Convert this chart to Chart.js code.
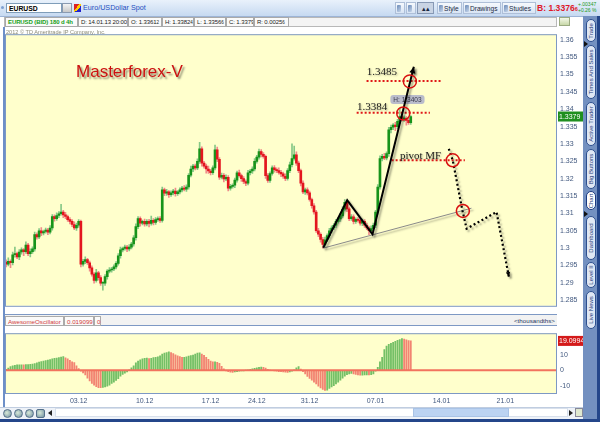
<!DOCTYPE html>
<html><head><meta charset="utf-8">
<script src="https://cdn.jsdelivr.net/npm/chart.js@4.4.1/dist/chart.umd.min.js"></script>
<style>
body{margin:0;width:600px;height:422px;overflow:hidden;background:#fff;font-family:"Liberation Sans",Arial,sans-serif;position:relative}
.abs{position:absolute}
#toolbar{left:0;top:0;width:600px;height:16px;background:linear-gradient(#e9f1fb,#c6d9f1);border-bottom:1px solid #9db4d6}
#sym{left:6px;top:3px;width:56px;height:10px;background:#fff;border:1px solid #7f9db9;font-size:6.8px;font-weight:bold;line-height:9px;padding-left:2px;box-sizing:border-box;color:#000}
#symbtn{left:62px;top:3px;width:10px;height:10px;background:linear-gradient(#f4f4f4,#c8c8c8);border:1px solid #8a9ab0;box-sizing:border-box}
#symname{left:83px;top:3px;font-size:7.2px;color:#1f4fbf;line-height:10px}
.tb{top:2px;height:12px;font-size:6.6px;line-height:11px;color:#1b2a44;box-sizing:border-box;padding:0 1px;border:1px solid #aebfd8;background:linear-gradient(#f6f9fd,#d8e4f4);white-space:nowrap;overflow:hidden}
.ic{display:inline-block;width:4px;height:7px;vertical-align:-1px;margin-right:1px;background:linear-gradient(135deg,#6a8ab8,#c7d6ea);border-radius:1px}
#bid{left:537px;top:2px;font-size:8.6px;font-weight:bold;color:#e0182a;line-height:12px;white-space:nowrap}
#bid small{font-size:5.5px}
#chg{left:578px;top:2px;font-size:5px;color:#1c9a1c;line-height:5.5px}
#info{left:4px;top:17px;width:553px;height:10px;background:#f4f4f4;border:1px solid #b8b8b8;box-sizing:border-box}
.cell{top:17px;height:10px;font-size:6px;letter-spacing:-0.1px;line-height:9px;color:#222;border:1px solid #a9a9a9;box-sizing:border-box;padding-left:2px;background:#fafafa;white-space:nowrap;overflow:hidden}
.cell small{font-size:4.5px}
#copy{left:6px;top:29px;font-size:5.6px;color:#8c8c78;z-index:2}
#c1{left:0;top:27px}
#c2{left:0;top:326px}
#oschead{left:4px;top:314px;width:553px;height:12px;background:#f2f2f2;border-top:1px solid #7d98c4;border-bottom:1px solid #7d98c4;box-sizing:border-box}
.oc{top:316px;height:10px;font-size:6.2px;line-height:9px;color:#d23a3a;border:1px solid #aaa;box-sizing:border-box;padding:0 2px;background:#fafafa;white-space:nowrap}
#thou{left:514px;top:316px;font-size:6.2px;color:#24365e;line-height:9px}
#bottom{left:0;top:407px;width:584px;height:12px;background:#eef2f8;border-top:1px solid #c0cde0}
.ico{top:409px;width:9px;height:9px;border-radius:50%;background:radial-gradient(circle at 40% 40%,#d8e8d8,#6f8f9f);border:1px solid #55708a;box-sizing:border-box}
#track{left:55px;top:408px;width:513px;height:9px;background:#fff;border:1px solid #d8e0ec;box-sizing:border-box}
#thumb{left:413px;top:408px;width:96px;height:9px;background:#bcd3f2;border:1px solid #a9c3e6;box-sizing:border-box}
#strip{left:583px;top:16px;width:17px;height:406px;background:#7390c0;border-right:3px solid #24468a;box-sizing:border-box}
#frameb{left:0;top:419px;width:600px;height:3px;background:#24468a}
#framel{left:3px;top:27px;width:2px;height:380px;background:#6d8fc8}
.tab{left:586px;width:10px;border:1px solid #2d4f8e;border-radius:5px;background:#dfe7f4;box-sizing:border-box;overflow:hidden}
.tab span{position:absolute;left:0;top:50%;width:100%;display:block;writing-mode:vertical-rl;transform:translateY(-50%) rotate(180deg);font-size:6px;color:#1f3c78;text-align:center;white-space:nowrap;line-height:8px}
.tab.sel{background:#fff;border-color:#1a3a80}
.tri{width:0;height:0;border-top:3px solid transparent;border-bottom:3px solid transparent;border-left:4px solid #111}
</style></head><body>

<div id="toolbar" class="abs"></div>
<div class="abs" style="left:1px;top:6px;width:3px;height:3px;border-radius:50%;background:#7fa0d0"></div>
<div id="sym" class="abs">EURUSD</div>
<div id="symbtn" class="abs"></div>
<div class="abs" style="left:74px;top:4px;width:7px;height:8px;background:linear-gradient(135deg,#d22 0 40%,#fc0 40% 60%,#22c 60%)"></div>
<div id="symname" class="abs">Euro/USDollar Spot</div>
<div class="abs tb" style="left:395px;width:10px"><span class="ic"></span></div>
<div class="abs tb" style="left:406px;width:10px"><span class="ic"></span></div>
<div class="abs tb" style="left:417px;width:17px;background:#c9d4e4;border-color:#8799b5;text-align:center">▴▴</div>
<div class="abs tb" style="left:437px;width:25px"><span class="ic"></span>Style</div>
<div class="abs tb" style="left:463px;width:38px"><span class="ic"></span>Drawings</div>
<div class="abs tb" style="left:502px;width:34px"><span class="ic"></span>Studies</div>
<div id="bid" class="abs">B: 1.3376<small>6</small></div>
<div id="chg" class="abs">+.00347<br>+0.26 %</div>

<div id="info" class="abs"></div>
<div class="abs cell" style="left:5px;width:73px;color:#16a016;font-weight:bold">EURUSD (BID) 180 d 4h</div>
<div class="abs cell" style="left:78px;width:50px">D: 14.01.13 20:00</div>
<div class="abs cell" style="left:128px;width:34px">O: 1.3361<small>2</small></div>
<div class="abs cell" style="left:162px;width:32px">H: 1.3382<small>4</small></div>
<div class="abs cell" style="left:194px;width:32px">L: 1.3356<small>6</small></div>
<div class="abs cell" style="left:226px;width:28px">C: 1.3379</div>
<div class="abs cell" style="left:254px;width:35px">R: 0.0025<small>6</small></div>
<div class="abs" style="left:559px;top:17px;width:11px;height:9px;background:linear-gradient(#f4f8e8,#c8d8a8);border:1px solid #9aaa80;box-sizing:border-box"></div>

<canvas id="c1" class="abs" width="583" height="286"></canvas>
<div id="copy" class="abs">2012 © TD Ameritrade IP Company, Inc.</div>

<div id="oschead" class="abs"></div>
<div class="abs oc" style="left:5px;width:59px">AwesomeOscillator</div>
<div class="abs oc" style="left:64px;width:30px">0.019099</div>
<div class="abs oc" style="left:94px;width:7px">0</div>
<div id="thou" class="abs">&lt;thousandths&gt;</div>
<canvas id="c2" class="abs" width="583" height="82"></canvas>

<div id="bottom" class="abs"></div>
<div class="abs ico" style="left:3px"></div>
<div class="abs ico" style="left:14px"></div>
<div class="abs ico" style="left:25px"></div>
<div class="abs ico" style="left:36px;border-radius:2px"></div>
<div class="abs" style="left:48px;top:410px;width:0;height:0;border-top:3px solid transparent;border-bottom:3px solid transparent;border-right:4px solid #222"></div>
<div id="track" class="abs"></div>
<div id="thumb" class="abs"></div>
<div class="abs" style="left:569px;top:410px;width:0;height:0;border-top:3px solid transparent;border-bottom:3px solid transparent;border-left:4px solid #222"></div>
<div class="abs" style="left:575px;top:408px;width:8px;height:9px;background:#dfe8d0;border:1px solid #889;box-sizing:border-box"></div>

<div id="framel" class="abs"></div>
<div id="strip" class="abs"></div>
<div class="abs tri" style="left:584px;top:41px"></div>
<div class="abs tri" style="left:584px;top:211px"></div>
<div class="abs tab" style="top:19px;height:23px"><span>Trade</span></div>
<div class="abs tab" style="top:45px;height:54px"><span>Times And Sales</span></div>
<div class="abs tab" style="top:102px;height:44px"><span>Active Trader</span></div>
<div class="abs tab" style="top:149px;height:40px"><span>Big Buttons</span></div>
<div class="abs tab sel" style="top:191px;height:19px"><span>Chart</span></div>
<div class="abs tab" style="top:216px;height:44px"><span>Dashboard</span></div>
<div class="abs tab" style="top:262px;height:26px"><span>Level II</span></div>
<div class="abs tab" style="top:291px;height:38px"><span>Live News</span></div>
<div id="frameb" class="abs"></div>

<script>
// ---------- data (4h EUR/USD bars) ----------
const firstOpen = 1.2960;
const closes = [
1.2954,1.2962,1.2958,1.2981,1.2984,1.2975,1.2989,1.2995,1.2990,1.3009,
1.2984,1.2990,1.2998,1.3039,1.3032,1.3050,1.3044,1.3048,1.3052,1.3046,
1.3058,1.3091,1.3085,1.3094,1.3099,1.3104,1.3096,1.3091,1.3082,1.3077,
1.3068,1.3058,1.3066,1.3077,1.2954,1.2962,1.2967,1.2958,1.2943,1.2925,
1.2907,1.2929,1.2915,1.2899,1.2899,1.2918,1.2934,1.2937,1.2940,1.2946,
1.2956,1.2978,1.2995,1.2999,1.3003,1.2998,1.3003,1.3012,1.3030,1.3062,
1.3085,1.3072,1.3077,1.3070,1.3077,1.3071,1.3080,1.3074,1.3082,1.3085,
1.3080,1.3168,1.3158,1.3162,1.3154,1.3159,1.3164,1.3157,1.3162,1.3168,
1.3173,1.3170,1.3176,1.3210,1.3228,1.3236,1.3231,1.3250,1.3286,1.3245,
1.3236,1.3228,1.3222,1.3217,1.3231,1.3283,1.3256,1.3204,1.3210,1.3199,
1.3204,1.3173,1.3178,1.3181,1.3196,1.3217,1.3209,1.3200,1.3192,1.3187,
1.3217,1.3222,1.3228,1.3250,1.3262,1.3278,1.3270,1.3264,1.3209,1.3195,
1.3215,1.3231,1.3226,1.3223,1.3218,1.3214,1.3207,1.3201,1.3223,1.3240,
1.3258,1.3269,1.3245,1.3223,1.3187,1.3162,1.3168,1.3159,1.3140,1.3122,
1.3104,1.3050,1.3040,1.3025,1.3011,1.3024,1.3036,1.3050,1.3058,1.3066,
1.3077,1.3084,1.3093,1.3112,1.3132,1.3113,1.3085,1.3090,1.3077,1.3083,
1.3080,1.3072,1.3077,1.3066,1.3058,1.3050,1.3056,1.3066,1.3104,1.3176,
1.3258,1.3264,1.3260,1.3272,1.3341,1.3348,1.3354,1.3350,1.3365,1.3379,
1.3372,1.3374,1.3368,1.3361,1.3379];
const wickUpPips = [
6,10,4,8,19,5,7,6,4,9, 5,8,6,7,5,6,9,4,6,5, 7,6,5,8,6,22,5,7,4,6, 5,8,6,5,4,6,8,4,5,6,
5,10,4,6,5,6,4,7,5,6, 5,6,8,4,6,5,7,5,6,8, 6,5,4,7,5,6,12,5,6,5, 6,8,5,7,4,6,5,9,4,6,
5,7,6,5,8,5,6,7,19,6, 5,6,8,5,6,14,8,5,6,5, 7,5,6,4,6,5,8,4,6,5, 7,5,6,8,5,7,6,5,4,6,
5,6,7,5,8,6,5,7,6,8, 42,25,8,6,5,7,5,6,5,4, 6,5,7,4,6,8,5,7,6,5, 6,5,7,8,8,6,5,7,6,4,
5,6,7,5,6,4,8,6,5,7, 8,6,9,5,7,6,5,8,6,24, 6,7,5,8,3];
const wickDownPips = [
8,5,14,6,7,5,8,6,12,5, 6,9,5,7,6,5,8,6,5,7, 5,6,7,5,6,4,8,6,5,7, 6,5,7,6,8,6,7,5,9,6,
8,5,7,6,20,6,7,5,6,5, 6,5,7,6,5,8,6,5,6,7, 6,9,5,7,6,10,5,7,6,5, 6,5,7,6,8,5,6,7,5,6,
6,5,7,6,5,8,6,5,6,9, 6,12,7,6,5,6,7,6,5,8, 5,8,6,5,7,6,5,8,6,7, 5,6,7,6,5,6,7,5,8,6,
6,5,7,6,5,8,6,7,5,6, 6,5,7,6,8,5,7,6,5,7, 6,5,7,8,11,6,5,7,6,5, 6,5,7,6,5,8,6,5,7,6,
5,6,7,6,5,11,6,5,7,6, 6,7,5,6,8,9,7,12,6,5, 6,7,14,5,5];
// Awesome Oscillator, thousandths
const aoValues = [
0.6,1.5,2.5,3,3.3,3.5,3.5,3.6,3.5,3.7, 3.8,3.9,4,4.4,4.8,5.3,5.7,6,6.4,6.7,
7,7.4,7.8,8,8.3,8.6,9,8.2,7.4,6.5, 5.6,5,3,1.2,-0.5,-1.6,-3,-5,-6.8,-8.5,
-9.6,-10.6,-11.2,-11.3,-11.1,-10.8,-10.3,-9.6,-8.5,-7.6, -6.6,-5.4,-3.8,-2.6,-1.8,-1,0.3,1.6,3,4.8,
6,6.9,7.5,7.8,8,7.6,7.8,8.3,8.4,8.7, 9.4,10.6,11.2,11.5,12,11.6,10.8,10,9.4,9,
8.5,8.5,8.8,9.3,9.6,9.9,10.6,11.2,11.4,10.6, 9.8,8.5,7.2,6,5.5,5.5,5.2,4.5,2.6,1,
-0.3,-0.8,-1.2,-1.4,-1.1,-0.9,-0.6,-0.4,-0.3,0.1, 0.4,0.7,1,1.3,1.6,2,2.1,1.9,1.4,0.6,
0.1,-0.2,-0.4,-0.6,-0.8,-0.9,-1,-1.2,-1.4,-1, -0.6,0.4,1.6,2.5,0.8,-0.9,-2.4,-3.9,-5.3,-6.3,
-7.6,-8.8,-10.2,-11.4,-12.3,-13.1,-12.8,-11.8,-10.8,-10, -8.8,-7.6,-6.3,-5,-3.8,-2.8,-2.3,-2,-2.3,-2.7,
-3,-3.2,-3.1,-2.9,-2.9,-3,-2.8,-2.3,-0.6,2, 5.5,8.5,13.5,15.8,16.9,17.5,18.1,18.8,19.4,19.9,
20.6,20.3,19.8,19.3,19.0994];
const slotCount = 251;
const dateTickIndex = [33,63,93,114,138,168,198,227];
const dateTickLabels = ['03.12','10.12','17.12','24.12','31.12','07.01','14.01','21.01'];
const priceTicks = [1.285,1.29,1.295,1.3,1.305,1.31,1.315,1.32,1.325,1.33,1.335,1.34,1.345,1.35,1.355,1.36];
const aoTicks = [-10,0,10];
const lastPriceLabel = '1.3379';
const lastAOLabel = '19.0994';

// ---------- drawings (in bar-index / price coordinates) ----------
const zigzagPath = [[144.2,1.3001],[155.1,1.3138],[166.6,1.3040],[185.4,1.3522]];
const supportLine = [[144.2,1.3000],[211.6,1.3115]];
const projectionPath = [[201.3,1.3286],[203.1,1.3253],[207.5,1.3108],[209.4,1.3056],[223.0,1.3104],[228.6,1.2918]];
const markerCircles = [[183.6,1.3480],[180.6,1.3388],[203.1,1.3253],[207.7,1.3107]];
const levelLines = [[163.9,198.0,1.3481],[159.4,192.7,1.3390],[175.3,208.6,1.3253]];
const levelTexts = [['1.3485',164.0,1.3507],['1.3384',159.6,1.3407],['pivot MF',179.1,1.3266]];
const highCallout = ['H: 1.3403',182.5,1.3428];
const titleText = ['Masterforex-V',31.8,1.3492];

// ---------- build ----------
const opens = closes.map((c,i)=> i===0 ? firstOpen : closes[i-1]);
const highs = closes.map((c,i)=> Math.max(opens[i],c) + wickUpPips[i]/10000);
const lows = closes.map((c,i)=> Math.min(opens[i],c) - wickDownPips[i]/10000);
const labels = Array.from({length:slotCount},(_,i)=>{const k=dateTickIndex.indexOf(i);return k>=0?dateTickLabels[k]:'';});
const up = closes.map((c,i)=> c>=opens[i]);
const bodyData = closes.map((c,i)=>[Math.min(opens[i],c),Math.max(opens[i],c)]);
const wickData = closes.map((c,i)=>[lows[i],highs[i]]);
const aoUp = aoValues.map((v,i)=> i===0 ? true : v>=aoValues[i-1]);

const FONT = 'Liberation Sans';
const PLOT_BG = '#ffffcc';
const AXIS_TXT = '#41587f';

const bgPlugin = {id:'bg', beforeDraw(ch){const a=ch.chartArea,x=ch.ctx;x.save();x.fillStyle=PLOT_BG;x.fillRect(a.left,a.top,a.right-a.left,a.bottom-a.top);x.restore();},
  afterDraw(ch){const a=ch.chartArea,x=ch.ctx;x.save();x.strokeStyle='#7d98c4';x.lineWidth=1;x.strokeRect(a.left+0.5,a.top+0.5,a.right-a.left-1,a.bottom-a.top);x.restore();}};

function badge(ch,val,text,bg){const x=ch.ctx,a=ch.chartArea,y=ch.scales.y.getPixelForValue(val);x.save();x.fillStyle=bg;x.fillRect(a.right+1,y-5,25,10);x.fillStyle='#fff';x.font='7px '+FONT;x.textBaseline='middle';x.fillText(text,a.right+2,y+0.5);x.restore();}

function arrowHead(x,p1,p2,size){const ang=Math.atan2(p2[1]-p1[1],p2[0]-p1[0]);x.beginPath();x.moveTo(p2[0],p2[1]);x.lineTo(p2[0]-size*Math.cos(ang-0.45),p2[1]-size*Math.sin(ang-0.45));x.lineTo(p2[0]-size*Math.cos(ang+0.45),p2[1]-size*Math.sin(ang+0.45));x.closePath();x.fill();}

const drawPlugin = {id:'draw', afterDatasetsDraw(ch){
  const x=ch.ctx, sx=ch.scales.x, sy=ch.scales.y;
  const P=(pt)=>[sx.getPixelForValue(pt[0]), sy.getPixelForValue(pt[1])];
  x.save();
  const shadow=(on)=>{x.shadowColor=on?'rgba(0,0,0,0.35)':'transparent';x.shadowOffsetX=on?2:0;x.shadowOffsetY=on?2:0;x.shadowBlur=on?2:0;};
  // title
  shadow(true);x.shadowColor='rgba(0,0,0,0.45)';
  x.fillStyle='#cc1111';x.font='17px "Liberation Sans"';x.textBaseline='alphabetic';
  const tp=P([titleText[1],titleText[2]]);x.fillText(titleText[0],tp[0],tp[1]);
  // support line
  shadow(true);x.strokeStyle='#8a8a8a';x.lineWidth=1;x.beginPath();
  let a=P(supportLine[0]),b=P(supportLine[1]);x.moveTo(a[0],a[1]);x.lineTo(b[0],b[1]);x.stroke();
  // red dotted levels
  shadow(false);x.strokeStyle='#e01818';x.lineWidth=2;x.setLineDash([2,2]);
  levelLines.forEach(l=>{const p1=P([l[0],l[2]]),p2=P([l[1],l[2]]);x.beginPath();x.moveTo(p1[0],p1[1]);x.lineTo(p2[0],p2[1]);x.stroke();});
  // texts
  shadow(true);x.shadowColor='rgba(0,0,0,0.3)';x.shadowOffsetX=1;x.shadowOffsetY=1;x.setLineDash([]);
  x.fillStyle='#1a1a1a';x.font='11px "Liberation Serif"';x.textBaseline='middle';
  levelTexts.forEach(t=>{const p=P([t[1],t[2]]);x.fillText(t[0],p[0],p[1]);});
  // callout
  shadow(false);
  const cp=P([highCallout[1],highCallout[2]]);x.font='6.5px '+FONT;const tw=x.measureText(highCallout[0]).width;
  x.fillStyle='#b9bccb';x.beginPath();x.roundRect(cp[0]-tw/2-3,cp[1]-4.5,tw+6,9,3);x.fill();
  x.fillStyle='#3a3a4a';x.textAlign='center';x.fillText(highCallout[0],cp[0],cp[1]+0.5);x.textAlign='left';
  // zigzag
  shadow(true);x.strokeStyle='#000';x.fillStyle='#000';x.lineWidth=2;x.lineJoin='miter';x.beginPath();
  const zz=zigzagPath.map(P);zz.forEach((p,i)=>i?x.lineTo(p[0],p[1]):x.moveTo(p[0],p[1]));x.stroke();
  arrowHead(x,zz[zz.length-2],zz[zz.length-1],7);
  // projection dotted path
  x.setLineDash([2,2.5]);x.lineWidth=2.2;x.beginPath();
  const pp=projectionPath.map(P);pp.forEach((p,i)=>i?x.lineTo(p[0],p[1]):x.moveTo(p[0],p[1]));x.stroke();
  x.setLineDash([]);arrowHead(x,pp[pp.length-2],pp[pp.length-1],5);
  // circles
  shadow(false);x.strokeStyle='#d81010';x.lineWidth=1.5;
  markerCircles.forEach(c=>{const p=P(c);x.beginPath();x.arc(p[0],p[1],6.5,0,Math.PI*2);x.stroke();});
  x.restore();
  },
  afterDraw(ch){badge(ch,closes[closes.length-1],lastPriceLabel,'#1f8f1f');}
};

new Chart(document.getElementById('c1'),{
  type:'bar',
  data:{labels,datasets:[
    {data:bodyData,backgroundColor:up.map(u=>u?'#17931a':'#e3161e'),barThickness:2,grouped:false,minBarLength:1,borderWidth:0},
    {data:wickData,backgroundColor:up.map(u=>u?'#86c886':'#f08a8a'),barThickness:1,grouped:false,borderWidth:0}
  ]},
  options:{animation:false,responsive:false,events:[],
    layout:{padding:{left:5,top:0,right:0,bottom:2}},
    plugins:{legend:{display:false},tooltip:{enabled:false}},
    scales:{
      x:{display:false,offset:true},
      y:{position:'right',min:1.2834,max:1.3616,
        afterBuildTicks:s=>{s.ticks=priceTicks.map(v=>({value:v}));},
        afterFit:s=>{s.width=26;},
        grid:{display:false,drawTicks:false},border:{display:false},
        ticks:{font:{size:7,family:FONT},color:AXIS_TXT,padding:3,callback:v=>String(+v.toFixed(3))}}
    }},
  plugins:[bgPlugin,drawPlugin]
});

const zeroPlugin={id:'zero',afterDatasetsDraw(ch){const x=ch.ctx,a=ch.chartArea,y=ch.scales.y.getPixelForValue(0);x.save();x.strokeStyle='#f2735e';x.lineWidth=2;x.beginPath();x.moveTo(a.left,y);x.lineTo(a.right,y);x.stroke();x.restore();},
  afterDraw(ch){badge(ch,aoValues[aoValues.length-1],lastAOLabel,'#d41a1a');}};

new Chart(document.getElementById('c2'),{
  type:'bar',
  data:{labels,datasets:[
    {data:aoValues,backgroundColor:aoUp.map(u=>u?'#74c066':'#f28472'),barThickness:1.2,borderWidth:0}
  ]},
  options:{animation:false,responsive:false,events:[],
    layout:{padding:{left:5,top:1,right:0,bottom:0}},
    plugins:{legend:{display:false},tooltip:{enabled:false}},
    scales:{
      x:{offset:true,grid:{display:false,drawTicks:false},border:{display:false},
        afterFit:s=>{s.height=15;},
        ticks:{autoSkip:false,maxRotation:0,padding:4,font:{size:7,family:FONT},color:AXIS_TXT}},
      y:{position:'right',min:-14.7,max:24.1,
        afterBuildTicks:s=>{s.ticks=aoTicks.map(v=>({value:v}));},
        afterFit:s=>{s.width=26;},
        grid:{display:false,drawTicks:false},border:{display:false},
        ticks:{font:{size:7,family:FONT},color:AXIS_TXT,padding:3}}
    }},
  plugins:[bgPlugin,zeroPlugin]
});
</script>
</body></html>
